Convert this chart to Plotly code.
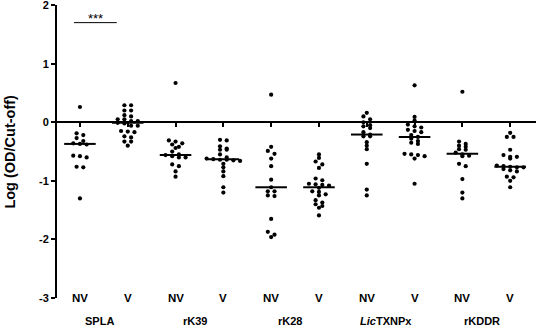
import plotly.graph_objects as go

# ---------------- data ----------------
tick_labels = ["NV", "V", "NV", "V", "NV", "V", "NV", "V", "NV", "V"]
group_labels = ["SPLA", "rK39", "rK28", "<i>Lic</i>TXNPx", "rKDDR"]
y_ticks = [-3, -2, -1, 0, 1, 2]

spla_nv = [0.26, -0.19, -0.22, -0.27, -0.32, -0.36, -0.37, -0.38, -0.57, -0.58, -0.60, -0.76, -0.77, -1.30]
spla_v = [0.29, 0.29, 0.20, 0.20, 0.12, 0.10, 0.05, 0.05, 0.02, 0.02, -0.01, -0.02, -0.06, -0.06,
          -0.15, -0.16, -0.17, -0.24, -0.26, -0.33, -0.33, -0.40]
rk39_nv = [0.67, -0.31, -0.33, -0.36, -0.38, -0.42, -0.44, -0.50, -0.55, -0.56, -0.58, -0.60, -0.60,
           -0.72, -0.75, -0.84, -0.93]
rk39_v = [-0.30, -0.31, -0.41, -0.45, -0.47, -0.47, -0.55, -0.60, -0.62, -0.63, -0.64, -0.64, -0.65,
          -0.66, -0.71, -0.77, -0.84, -0.92, -1.11, -1.20]
rk28_nv = [0.47, -0.42, -0.49, -0.54, -0.62, -0.75, -0.98, -1.11, -1.18, -1.18, -1.25, -1.26, -1.65,
           -1.87, -1.92, -1.96]
rk28_v = [-0.55, -0.61, -0.67, -0.72, -0.78, -0.96, -0.99, -1.05, -1.06, -1.07, -1.08, -1.12, -1.18,
          -1.19, -1.23, -1.25, -1.33, -1.37, -1.40, -1.43, -1.46, -1.59]
lic_nv = [0.16, 0.10, 0.05, 0.00, -0.05, -0.07, -0.10, -0.17, -0.21, -0.24, -0.24, -0.34, -0.40, -0.46,
          -0.71, -1.15, -1.25]
lic_v = [0.63, 0.09, 0.03, -0.04, -0.07, -0.09, -0.13, -0.15, -0.17, -0.22, -0.25, -0.28, -0.32, -0.35,
         -0.37, -0.54, -0.55, -0.56, -0.58, -0.62, -1.05]
rkddr_nv = [0.52, -0.33, -0.37, -0.40, -0.42, -0.46, -0.47, -0.52, -0.55, -0.57, -0.58, -0.71, -0.75,
            -0.97, -1.20, -1.30]
rkddr_v = [-0.18, -0.25, -0.25, -0.47, -0.56, -0.59, -0.59, -0.62, -0.74, -0.75, -0.76, -0.77, -0.77,
           -0.80, -0.82, -0.84, -0.93, -0.94, -1.00, -1.11]
medians = [-0.37, -0.01, -0.56, -0.63, -1.11, -1.11, -0.21, -0.25, -0.54, -0.76]

sig_text = "***"
sig_level = 1.70
# ----------------------------------------------------------------

series = [spla_nv, spla_v, rk39_nv, rk39_v, rk28_nv, rk28_v, lic_nv, lic_v, rkddr_nv, rkddr_v]

FONT = "Arial, 'Liberation Sans', sans-serif"
SPACING = 0.14   # horizontal spacing of points within a row (category units)
ROW_TOL = 0.055  # values closer than this share a row


def swarm(values, center):
    vals = sorted(values, reverse=True)
    rows = []
    for v in vals:
        if rows and rows[-1][0] - v < ROW_TOL:
            rows[-1].append(v)
        else:
            rows.append([v])
    xs, ys = [], []
    for row in rows:
        n = len(row)
        for k, v in enumerate(row):
            xs.append(center + (k - (n - 1) / 2) * SPACING)
            ys.append(v)
    return xs, ys


fig = go.Figure()

for i, vals in enumerate(series):
    xs, ys = swarm(vals, i)
    fig.add_trace(go.Scatter(x=xs, y=ys, mode="markers",
                             marker=dict(color="black", size=4.2, line=dict(width=0)),
                             showlegend=False, hoverinfo="y", cliponaxis=False))

# median lines
for i, m in enumerate(medians):
    fig.add_trace(go.Scatter(x=[i - 0.33, i + 0.33], y=[m, m], mode="lines",
                             line=dict(color="black", width=2), showlegend=False,
                             hoverinfo="skip"))

# significance bar
fig.add_shape(type="line", xref="x", yref="y", x0=-0.125, x1=0.77, y0=sig_level, y1=sig_level,
              line=dict(color="black", width=1))
fig.add_annotation(x=0.32, y=sig_level, xref="x", yref="y", text=sig_text, showarrow=False,
                   yanchor="bottom", yshift=-5, font=dict(family=FONT, size=13, color="black"))

# category tick labels (drawn at the level of -3)
for i, lab in enumerate(tick_labels):
    fig.add_annotation(x=i, y=0, xref="x", yref="paper", text="<b>" + lab + "</b>",
                       showarrow=False, yanchor="middle", xanchor="center",
                       font=dict(family=FONT, size=11.5, color="black"))

# group labels
for g, lab in enumerate(group_labels):
    fig.add_annotation(x=2 * g + 0.5 - 0.1, y=-0.08, xref="x", yref="paper",
                       text="<b>" + lab + "</b>", showarrow=False, yanchor="middle",
                       font=dict(family=FONT, size=11, color="black"))

# y title
fig.add_annotation(x=-0.1, y=0.5, xref="paper", yref="paper", text="<b>Log (OD/Cut-off)</b>",
                   textangle=-90, showarrow=False, xanchor="center", yanchor="middle",
                   font=dict(family=FONT, size=14.5, color="black"))

fig.update_layout(
    width=536, height=329,
    margin=dict(l=57, r=0, t=5, b=31, autoexpand=False),
    paper_bgcolor="white", plot_bgcolor="white",
    showlegend=False,
    xaxis=dict(range=[-0.48, 9.54], anchor="free", position=0.6, automargin=False,
               tickmode="array", tickvals=list(range(len(tick_labels))),
               showticklabels=False, ticks="outside", ticklen=4, tickwidth=1.5,
               tickcolor="black", showline=True, linecolor="black", linewidth=2,
               showgrid=False, zeroline=False),
    yaxis=dict(range=[-3, 2.001], tickmode="array", tickvals=y_ticks, automargin=False,
               ticktext=["<b>%d</b>" % t for t in y_ticks], ticklabeloverflow="allow",
               ticks="outside", ticklen=4, tickwidth=1.5, tickcolor="black",
               showline=True, linecolor="black", linewidth=2, showgrid=False,
               zeroline=False, tickfont=dict(family=FONT, size=11, color="black")),
)

fig.write_html("out.html", config={"displayModeBar": False},
               post_script="document.body.style.margin='0';document.body.style.overflow='hidden';")
